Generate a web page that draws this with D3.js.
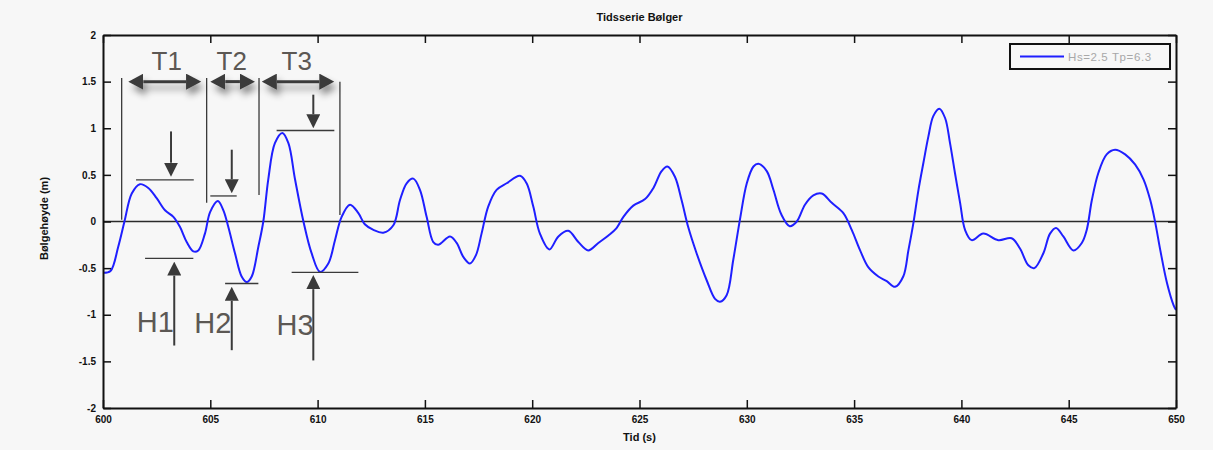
<!DOCTYPE html>
<html>
<head>
<meta charset="utf-8">
<script src="https://cdn.jsdelivr.net/npm/d3@7"></script>
<style>
  body { margin: 0; background: #f7f7f7; }
  svg { display: block; }
</style>
</head>
<body>
<svg id="chart" width="1213" height="450"></svg>
<script>
// Wave elevation time series (s, m)
const times = [
  600.0, 600.35, 600.71, 601.0, 601.34, 601.72, 602.11, 602.5, 602.89, 603.28,
  603.59, 603.9, 604.21, 604.44, 604.75, 604.99, 605.35, 605.61, 605.84, 606.15,
  606.46, 606.7, 606.93, 607.24, 607.47, 607.7, 608.01, 608.36, 608.64, 608.95,
  609.34, 609.72, 610.11, 610.5, 610.81, 611.12, 611.51, 611.9, 612.2, 612.6,
  613.06, 613.53, 613.84, 614.15, 614.46, 614.77, 615.08, 615.39, 615.62, 616.17,
  616.48, 616.79, 617.1, 617.38, 617.64, 617.95, 618.34, 618.81, 619.43, 619.74,
  620.05, 620.36, 620.8, 621.22, 621.68, 622.15, 622.61, 623.08, 623.55, 623.93,
  624.25, 624.71, 625.26, 625.65, 626.03, 626.3, 626.65, 626.96, 627.27, 627.66,
  628.13, 628.52, 628.75, 629.06, 629.37, 629.68, 630.0, 630.31, 630.54, 630.93,
  631.24, 631.6, 632.0, 632.33, 632.71, 633.1, 633.49, 633.96, 634.5, 634.89,
  635.28, 635.66, 636.13, 636.52, 636.91, 637.29, 637.53, 637.76, 638.0, 638.23,
  638.46, 638.69, 638.97, 639.24, 639.47, 639.7, 639.94, 640.17, 640.48, 641.02,
  641.72, 642.34, 642.73, 643.12, 643.4, 643.82, 644.13, 644.41, 644.75, 645.22,
  645.61, 645.84, 646.08, 646.38, 646.77, 647.16, 647.63, 648.1, 648.49, 648.8,
  649.04, 649.27, 649.58, 649.89, 650.0
];
const heights = [
  -0.55, -0.53, -0.27, 0.0, 0.30, 0.40, 0.36, 0.25, 0.12, 0.05,
  -0.06, -0.22, -0.32, -0.31, -0.13, 0.10, 0.22, 0.12, -0.06, -0.34,
  -0.59, -0.65, -0.59, -0.27, 0.0, 0.45, 0.84, 0.95, 0.84, 0.45,
  0.0, -0.34, -0.54, -0.45, -0.20, 0.05, 0.18, 0.09, -0.03, -0.09,
  -0.12, -0.04, 0.23, 0.41, 0.46, 0.34, 0.05, -0.22, -0.25, -0.16,
  -0.23, -0.38, -0.45, -0.36, -0.13, 0.16, 0.34, 0.41, 0.49, 0.41,
  0.16, -0.13, -0.30, -0.16, -0.10, -0.22, -0.31, -0.23, -0.15, -0.07,
  0.05, 0.17, 0.24, 0.36, 0.54, 0.59, 0.48, 0.23, -0.06, -0.34,
  -0.63, -0.83, -0.86, -0.79, -0.41, 0.02, 0.41, 0.59, 0.62, 0.54,
  0.34, 0.08, -0.05, 0.0, 0.18, 0.28, 0.30, 0.20, 0.09, -0.09,
  -0.31, -0.49, -0.59, -0.64, -0.70, -0.59, -0.31, -0.02, 0.34, 0.63,
  0.91, 1.13, 1.21, 1.11, 0.84, 0.52, 0.20, -0.09, -0.20, -0.13,
  -0.20, -0.18, -0.29, -0.47, -0.50, -0.34, -0.13, -0.07, -0.16, -0.31,
  -0.23, -0.09, 0.23, 0.52, 0.72, 0.77, 0.72, 0.61, 0.45, 0.23,
  -0.02, -0.31, -0.66, -0.90, -0.95
];

const xTicks = [600, 605, 610, 615, 620, 625, 630, 635, 640, 645, 650];
const yTicks = [-2, -1.5, -1, -0.5, 0, 0.5, 1, 1.5, 2];

const chartTitle = "Tidsserie Bølger";
const xLabel = "Tid (s)";
const yLabel = "Bølgehøyde (m)";
const legendLabel = "Hs=2.5 Tp=6.3";

// Wave period markers (time in s, elevation in m)
const periodEdges = [
  { t: 600.87, v0: 0.02, v1: 1.54 },
  { t: 604.83, v0: 0.20, v1: 1.54 },
  { t: 607.27, v0: 0.285, v1: 1.54 },
  { t: 611.04, v0: 0.07, v1: 1.50 }
];
const periodSpans = [
  { label: "T1", t0: 601.18, t1: 604.57, v: 1.50, tl: 602.97 },
  { label: "T2", t0: 605.00, t1: 607.08, v: 1.50, tl: 606.00 },
  { label: "T3", t0: 607.40, t1: 610.78, v: 1.50, tl: 609.03 }
];
// Wave height markers: crest level, trough level, arrows and label anchor
const heightMarks = [
  { label: "H1", crest: [601.54, 604.23, 0.446], trough: [601.96, 604.21, -0.396],
    downArrow: [603.17, 0.966, 0.48], upArrow: [603.32, -1.33, -0.43], text: [601.57, -1.185] },
  { label: "H2", crest: [605.00, 606.23, 0.274], trough: [605.69, 607.24, -0.665],
    downArrow: [606.00, 0.77, 0.303], upArrow: [606.00, -1.38, -0.70], text: [604.25, -1.20] },
  { label: "H3", crest: [608.09, 610.78, 0.976], trough: [608.79, 611.90, -0.546],
    downArrow: [609.80, 1.36, 1.00], upArrow: [609.80, -1.49, -0.575], text: [608.09, -1.22] }
];

const W = 1213, H = 450;
const margin = { top: 35, right: 37, bottom: 42, left: 103 };
const iw = W - margin.left - margin.right;
const ih = H - margin.top - margin.bottom;

const svg = d3.select("#chart");
svg.append("rect").attr("width", W).attr("height", H).attr("fill", "#f7f7f7");

const defs = svg.append("defs");
const shadow = defs.append("filter").attr("id", "soft-shadow")
  .attr("filterUnits", "userSpaceOnUse")
  .attr("x", -margin.left).attr("y", -margin.top).attr("width", W).attr("height", H);
shadow.append("feDropShadow").attr("dx", 3).attr("dy", 6).attr("stdDeviation", 3.5)
  .attr("flood-color", "#000").attr("flood-opacity", 0.45);

const HEAD_BIG = { w: 16, l: 15 };
const HEAD_SMALL = { w: 14, l: 14 };
function addArrowMarker(id, w, l) {
  defs.append("marker").attr("id", id)
    .attr("markerUnits", "userSpaceOnUse")
    .attr("viewBox", `0 ${-w / 2} ${l} ${w}`)
    .attr("refX", 0).attr("refY", 0)
    .attr("markerWidth", l).attr("markerHeight", w)
    .attr("orient", "auto-start-reverse")
    .append("path").attr("d", `M0,${-w / 2}L${l},0L0,${w / 2}Z`).attr("fill", "#3a3a3a");
}
addArrowMarker("head-big", HEAD_BIG.w, HEAD_BIG.l);
addArrowMarker("head-small", HEAD_SMALL.w, HEAD_SMALL.l);

const x = d3.scaleLinear().domain([600, 650]).range([0, iw]);
const y = d3.scaleLinear().domain([-2, 2]).range([ih, 0]);

const g = svg.append("g").attr("transform", `translate(${margin.left},${margin.top})`);

// zero reference line
g.append("line")
  .attr("x1", 0).attr("x2", iw).attr("y1", y(0)).attr("y2", y(0))
  .attr("stroke", "#2a2a2a").attr("stroke-width", 1.5);

// wave series
const series = times.map((t, i) => ({ t, v: heights[i] }));
g.append("path").datum(series)
  .attr("fill", "none").attr("stroke", "#1f1fff").attr("stroke-width", 2)
  .attr("d", d3.line().x(d => x(d.t)).y(d => y(d.v)).curve(d3.curveCatmullRom.alpha(0.5)));

// axes with inward ticks on all sides
const tickFont = "'Liberation Sans', Arial, sans-serif";
const fmt = d => String(d);
const axB = g.append("g").attr("transform", `translate(0,${ih})`)
  .call(d3.axisBottom(x).tickValues(xTicks).tickFormat(fmt).tickSize(-8).tickSizeOuter(0).tickPadding(6));
const axL = g.append("g")
  .call(d3.axisLeft(y).tickValues(yTicks).tickFormat(fmt).tickSize(-8).tickSizeOuter(0).tickPadding(7));
const axT = g.append("g")
  .call(d3.axisTop(x).tickValues(xTicks).tickFormat("").tickSize(-8).tickSizeOuter(0));
const axR = g.append("g").attr("transform", `translate(${iw},0)`)
  .call(d3.axisRight(y).tickValues(yTicks).tickFormat("").tickSize(-8).tickSizeOuter(0));
[axB, axL, axT, axR].forEach(a => {
  a.selectAll("path.domain").attr("stroke", "#111").attr("stroke-width", 2);
  a.selectAll(".tick line").attr("stroke", "#111").attr("stroke-width", 1.5);
  a.selectAll(".tick text").attr("fill", "#111").attr("font-family", tickFont)
    .attr("font-size", 10).attr("font-weight", "bold");
});
axB.selectAll(".tick text").attr("dy", "0.9em");

// title and axis labels
svg.append("text").attr("x", margin.left + iw / 2).attr("y", 21)
  .attr("text-anchor", "middle").attr("font-family", tickFont)
  .attr("font-size", 11).attr("font-weight", "bold").attr("fill", "#111").text(chartTitle);
svg.append("text").attr("x", margin.left + iw / 2).attr("y", 441)
  .attr("text-anchor", "middle").attr("font-family", tickFont)
  .attr("font-size", 11).attr("font-weight", "bold").attr("fill", "#111").text(xLabel);
svg.append("text").attr("transform", `translate(48,${margin.top + ih / 2 - 3}) rotate(-90)`)
  .attr("text-anchor", "middle").attr("font-family", tickFont)
  .attr("font-size", 11).attr("font-weight", "bold").attr("fill", "#111").text(yLabel);

// legend
const lg = g.append("g").attr("transform", `translate(${iw - 166},9)`);
lg.append("rect").attr("width", 160).attr("height", 25)
  .attr("fill", "#f7f7f7").attr("stroke", "#111").attr("stroke-width", 2);
lg.append("line").attr("x1", 10).attr("x2", 54).attr("y1", 12.5).attr("y2", 12.5)
  .attr("stroke", "#1f1fff").attr("stroke-width", 2);
lg.append("text").attr("x", 58).attr("y", 17).attr("font-family", tickFont)
  .attr("font-size", 11.5).attr("letter-spacing", 0.6).attr("fill", "#a8a8a8").text(legendLabel);

// period and height annotations
const ann = g.append("g");
const annColor = "#3a3a3a";
const labelColor = "#5c5854";

ann.selectAll("line.edge").data(periodEdges).join("line").attr("class", "edge")
  .attr("x1", d => x(d.t)).attr("x2", d => x(d.t))
  .attr("y1", d => y(d.v0)).attr("y2", d => y(d.v1))
  .attr("stroke", annColor).attr("stroke-width", 1.3);

ann.append("g").attr("filter", "url(#soft-shadow)")
  .selectAll("line.span").data(periodSpans).join("line").attr("class", "span")
  .attr("x1", d => x(d.t0) + HEAD_BIG.l).attr("x2", d => x(d.t1) - HEAD_BIG.l)
  .attr("y1", d => y(d.v)).attr("y2", d => y(d.v))
  .attr("stroke", annColor).attr("stroke-width", 3)
  .attr("marker-start", "url(#head-big)").attr("marker-end", "url(#head-big)");

ann.selectAll("text.tlabel").data(periodSpans).join("text").attr("class", "tlabel")
  .attr("x", d => x(d.tl)).attr("y", d => y(1.62))
  .attr("text-anchor", "middle").attr("font-family", tickFont)
  .attr("font-size", 26).attr("fill", labelColor).text(d => d.label);

heightMarks.forEach(m => {
  [m.crest, m.trough].forEach(c => {
    ann.append("line")
      .attr("x1", x(c[0])).attr("x2", x(c[1])).attr("y1", y(c[2])).attr("y2", y(c[2]))
      .attr("stroke", annColor).attr("stroke-width", 1.3);
  });
  [m.downArrow, m.upArrow].forEach(a => {
    const dir = a[2] > a[1] ? 1 : -1;
    ann.append("line")
      .attr("x1", x(a[0])).attr("x2", x(a[0]))
      .attr("y1", y(a[1])).attr("y2", y(a[2]) + dir * HEAD_SMALL.l)
      .attr("stroke", annColor).attr("stroke-width", 2)
      .attr("marker-end", "url(#head-small)");
  });
  ann.append("text").attr("x", x(m.text[0])).attr("y", y(m.text[1]))
    .attr("font-family", tickFont).attr("font-size", 29).attr("fill", labelColor).text(m.label);
});
</script>
</body>
</html>
